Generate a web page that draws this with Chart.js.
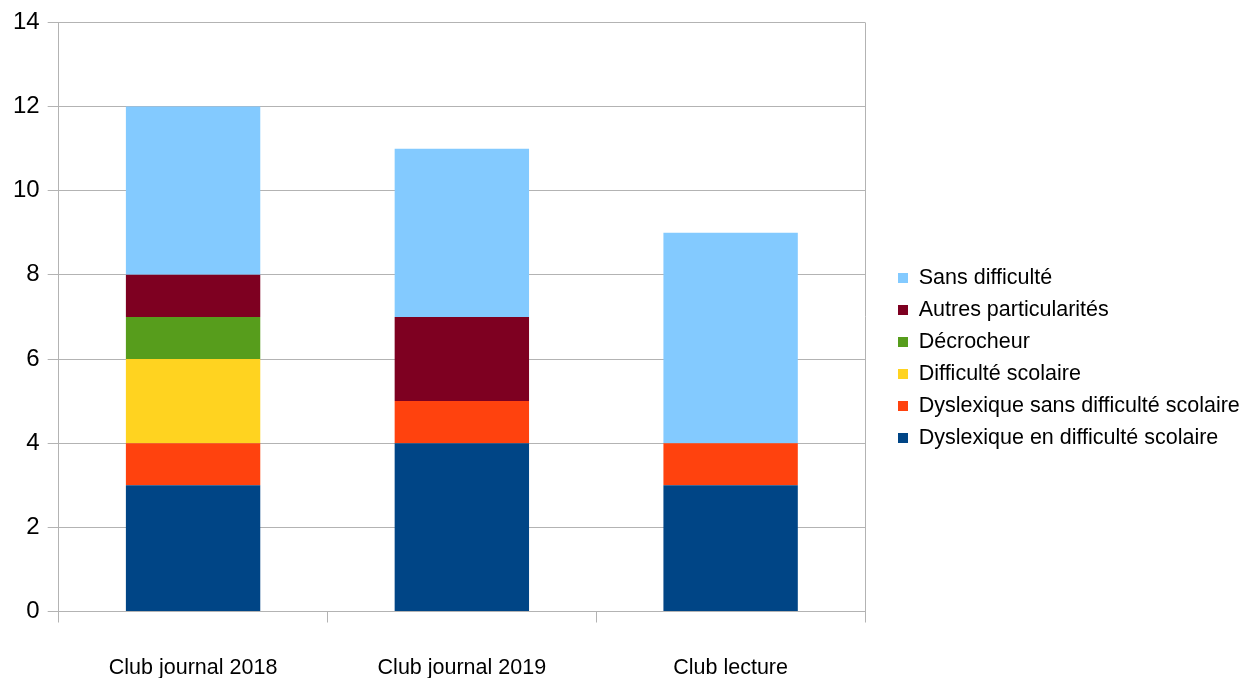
<!DOCTYPE html>
<html>
<head>
<meta charset="utf-8">
<script src="https://cdn.jsdelivr.net/npm/chart.js@4"></script>
<style>
html,body{margin:0;padding:0;background:#fff;}
#wrap{width:1249px;height:678px;}
</style>
</head>
<body>
<div id="wrap"><canvas id="c" width="1249" height="678"></canvas></div>
<script>
const categories = ["Club journal 2018", "Club journal 2019", "Club lecture"];
const seriesNames = ["Dyslexique en difficulté scolaire", "Dyslexique sans difficulté scolaire", "Difficulté scolaire", "Décrocheur", "Autres particularités", "Sans difficulté"];
const dyslexiqueEnDifficulte = [3, 4, 3];
const dyslexiqueSansDifficulte = [1, 1, 1];
const difficulteScolaire = [2, 0, 0];
const decrocheur = [1, 0, 0];
const autresParticularites = [1, 2, 0];
const sansDifficulte = [4, 4, 5];
const colors = ["#004586", "#ff420e", "#ffd320", "#579d1c", "#7e0021", "#83caff"];
const yTicks = [0, 2, 4, 6, 8, 10, 12, 14];

const seriesValues = [dyslexiqueEnDifficulte, dyslexiqueSansDifficulte, difficulteScolaire, decrocheur, autresParticularites, sansDifficulte];
const datasets = seriesNames.map((n, i) => ({
  label: n,
  data: seriesValues[i],
  backgroundColor: colors[i],
  borderWidth: 0,
  categoryPercentage: 1.0,
  barPercentage: 0.5
}));
const GRID = "#b3b3b3";
const FONT = "'Liberation Sans', Arial, sans-serif";

// Legend layout helpers: reserve a fixed width for the legend column and shift it.
const LEGEND_WIDTH = 384;
const LEGEND_DX = 22.5;
const LEGEND_DY = 11.5;
const legendLayout = {
  id: 'legendLayout',
  afterInit(chart) {
    const l = chart.legend;
    if (!l) return;
    const origFit = l.fit.bind(l);
    l.fit = function () { origFit(); this.width = LEGEND_WIDTH; };
  },
  afterLayout(chart) {
    const l = chart.legend;
    if (!l) return;
    l.left += LEGEND_DX; l.right += LEGEND_DX;
    l.top += LEGEND_DY; l.bottom += LEGEND_DY;
  }
};

new Chart(document.getElementById('c'), {
  type: 'bar',
  data: { labels: categories, datasets },
  plugins: [legendLayout],
  options: {
    responsive: false,
    animation: false,
    layout: { padding: { left: 5, top: 15, right: 0, bottom: 0 } },
    plugins: {
      tooltip: { enabled: false },
      legend: {
        position: 'right',
        align: 'center',
        reverse: true,
        maxWidth: 600,
        labels: {
          font: { family: FONT, size: 21.5 },
          color: '#000',
          boxWidth: 10,
          boxHeight: 10,
          padding: 10.5
        }
      }
    },
    scales: {
      x: {
        stacked: true,
        offset: true,
        grid: {
          offset: true,
          drawOnChartArea: true,
          color: (ctx) => (ctx.type === 'scale' || ctx.index === 0) ? GRID : 'rgba(0,0,0,0)',
          tickColor: GRID,
          tickLength: 11,
          lineWidth: 1
        },
        border: { color: GRID },
        ticks: {
          font: { family: FONT, size: 21.5 },
          color: '#000',
          padding: 33
        },
        afterFit: (scale) => { scale.height = 66.5; }
      },
      y: {
        stacked: true,
        min: 0,
        max: 14,
        afterBuildTicks: (axis) => { axis.ticks = yTicks.map(v => ({ value: v })); },
        grid: { color: GRID, tickColor: GRID, tickLength: 11 },
        border: { color: GRID },
        ticks: {
          font: { family: FONT, size: 24 },
          color: '#000',
          padding: 8
        }
      }
    }
  }
});
</script>
</body>
</html>
